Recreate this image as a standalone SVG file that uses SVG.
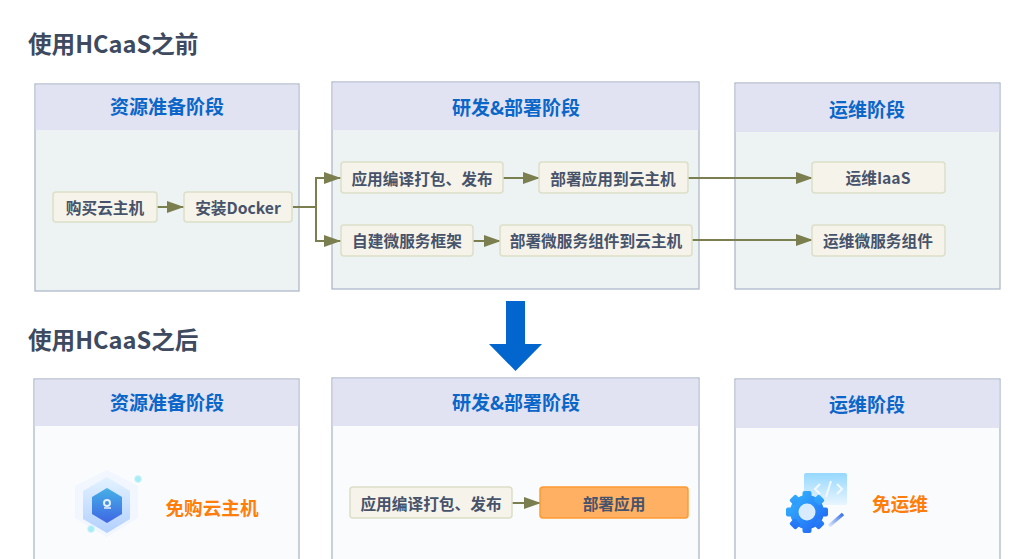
<svg xmlns="http://www.w3.org/2000/svg" width="1024" height="559" viewBox="0 0 1024 559">
<defs>
<style>
text{font-family:"Noto Sans CJK SC","Noto Sans","Liberation Sans",sans-serif;text-anchor:middle}
.panel{stroke:#aeb8c9;stroke-width:1.3}
.pa{fill:#edf3f3}.pb{fill:#fafbfd}
.hd{fill:#e1e2f2}
.ht{font-size:19px;font-weight:700;fill:#0a66c8}
.sec{font-size:23.600px;font-weight:700;fill:#3d4a5f;text-anchor:start}
.n{fill:#f6f3ea;stroke:#dcdfc8;stroke-width:1.5}
.nt{font-size:15.700px;font-weight:700;fill:#47536b}
.or{font-size:18.600px;font-weight:700;fill:#ff7d0a}
.c{fill:none;stroke:#7b7f50;stroke-width:2}
</style>
<marker id="ah" markerUnits="userSpaceOnUse" markerWidth="17" markerHeight="12" refX="17" refY="6" orient="auto"><path d="M0 0L17 6L0 12Z" fill="#7b7f50"/></marker>
<linearGradient id="hexg" x1="0" y1="0" x2="0" y2="1"><stop offset="0" stop-color="#46b0e6"/><stop offset="1" stop-color="#3f66e4"/></linearGradient>
<linearGradient id="hexo" x1="0" y1="0" x2="0" y2="1"><stop offset="0" stop-color="#dff1ff"/><stop offset="1" stop-color="#a3c6ff"/></linearGradient>
<linearGradient id="gear" gradientUnits="userSpaceOnUse" x1="788" y1="494" x2="826" y2="532"><stop offset="0" stop-color="#35b8ff"/><stop offset="1" stop-color="#1f5ff2"/></linearGradient>
<linearGradient id="scr" x1="0" y1="0" x2="0" y2="1"><stop offset="0" stop-color="#96d8ff"/><stop offset="1" stop-color="#e9f5ff"/></linearGradient>
<linearGradient id="pen" gradientUnits="userSpaceOnUse" x1="829" y1="526" x2="843" y2="513"><stop offset="0" stop-color="#dbe7ff"/><stop offset="1" stop-color="#2f6bea"/></linearGradient>
</defs>
<rect width="1024" height="559" fill="#fff"/>
<text id="title-before" class="sec" x="28" y="52.500">使用HCaaS之前</text>
<text id="title-after" class="sec" x="28" y="348.500">使用HCaaS之后</text>

<g id="panel-before-1"><rect class="panel pa" x="35" y="84" width="264" height="207"/><rect class="hd" x="35.700" y="84.700" width="262.600" height="45.300"/><text class="ht" x="167" y="114">资源准备阶段</text></g>
<g id="panel-before-2"><rect class="panel pa" x="332" y="82" width="367" height="207"/><rect class="hd" x="332.700" y="82.700" width="365.600" height="47.300"/><text class="ht" x="516" y="115">研发&amp;部署阶段</text></g>
<g id="panel-before-3"><rect class="panel pa" x="735" y="83" width="265" height="206"/><rect class="hd" x="735.700" y="83.700" width="263.600" height="48.300"/><text class="ht" x="867" y="117">运维阶段</text></g>
<g id="panel-after-1"><rect class="panel pb" x="34" y="379" width="265" height="190"/><rect class="hd" x="34.700" y="379.700" width="263.600" height="46.300"/><text class="ht" x="167" y="410">资源准备阶段</text></g>
<g id="panel-after-2"><rect class="panel pb" x="332" y="378" width="367" height="190"/><rect class="hd" x="332.700" y="378.700" width="365.600" height="47.300"/><text class="ht" x="516" y="410">研发&amp;部署阶段</text></g>
<g id="panel-after-3"><rect class="panel pb" x="735" y="379" width="265" height="190"/><rect class="hd" x="735.700" y="379.700" width="263.600" height="48.300"/><text class="ht" x="867" y="412">运维阶段</text></g>

<g id="connectors">
<path class="c" marker-end="url(#ah)" d="M157 207H184"/>
<path class="c" marker-end="url(#ah)" d="M293 207H316V178H341"/>
<path class="c" marker-end="url(#ah)" d="M316 207V241H341"/>
<path class="c" marker-end="url(#ah)" d="M502 178H540"/>
<path class="c" marker-end="url(#ah)" d="M688 178H813"/>
<path class="c" marker-end="url(#ah)" d="M692 240H813"/>
<path class="c" marker-end="url(#ah)" d="M472 241H501"/>
<path class="c" marker-end="url(#ah)" d="M512 503H541"/>
</g>

<g id="n1"><rect class="n" x="53" y="192" width="104" height="30" rx="3"/><text class="nt" x="105" y="214">购买云主机</text></g>
<g id="n2"><rect class="n" x="184" y="192" width="108" height="30" rx="3"/><text class="nt" x="238" y="214">安装Docker</text></g>
<g id="n3"><rect class="n" x="341" y="162" width="162" height="31" rx="3"/><text class="nt" x="422" y="185">应用编译打包、发布</text></g>
<g id="n4"><rect class="n" x="539" y="162" width="149" height="31" rx="3"/><text class="nt" x="613" y="185">部署应用到云主机</text></g>
<g id="n5"><rect class="n" x="341" y="225" width="132" height="31" rx="3"/><text class="nt" x="407" y="247">自建微服务框架</text></g>
<g id="n6"><rect class="n" x="500" y="225" width="192" height="31" rx="3"/><text class="nt" x="596" y="247">部署微服务组件到云主机</text></g>
<g id="n7"><rect class="n" x="812" y="162" width="133" height="31" rx="3"/><text class="nt" x="878" y="184">运维IaaS</text></g>
<g id="n8"><rect class="n" x="812" y="225" width="133" height="31" rx="3"/><text class="nt" x="878" y="247">运维微服务组件</text></g>

<g id="down-arrow"><path d="M506 301H525V344H542L515.500 371L489 344H506Z" fill="#0366ce"/></g>

<g id="n9"><rect class="n" x="350" y="487" width="162" height="31" rx="3"/><text class="nt" x="431" y="510">应用编译打包、发布</text></g>
<g id="n10"><rect x="540" y="487" width="148" height="31" rx="3" fill="#ffb063" stroke="#ff9a33" stroke-width="1.5"/><text class="nt" x="614" y="510">部署应用</text></g>

<g id="icon-cloud">
<path d="M107 470L138 486V518L107 537L75 518V486Z" fill="#f1f6ff"/>
<path d="M107 477L130 491V519L107 533L83 519V491Z" fill="url(#hexo)" opacity=".8"/>
<path d="M107 488L122 497V514L107 523L92 514V497Z" fill="url(#hexg)"/>
<circle cx="107" cy="503" r="3" fill="none" stroke="#e4f0ff" stroke-width="2"/>
<path d="M104 508H111" stroke="#e4f0ff" stroke-width="1.500"/>
<circle cx="138" cy="479" r="3.500" fill="#a8ecf5" stroke="#d6f5fa"/>
<circle cx="91" cy="529" r="3.500" fill="#a8ecf5" stroke="#d6f5fa"/>
</g>
<text id="label-free-host" class="or" x="212" y="515">免购云主机</text>

<g id="icon-ops">
<rect x="804" y="473" width="43" height="32" rx="2" fill="url(#scr)"/>
<path d="M820 484L815 489L820 494M837 484L842 489L837 494M831 481L826 497" fill="none" stroke="#f2f9ff" stroke-width="2"/>
<circle cx="807" cy="512" r="17" fill="url(#gear)"/>
<g fill="url(#gear)"><rect x="802.500" y="491" width="9" height="8" rx="2"/><rect x="802.500" y="525" width="9" height="8" rx="2"/><rect x="786" y="507.500" width="8" height="9" rx="2"/><rect x="820" y="507.500" width="8" height="9" rx="2"/><rect x="802.500" y="491" width="9" height="8" rx="2" transform="rotate(45 807 512)"/><rect x="802.500" y="525" width="9" height="8" rx="2" transform="rotate(45 807 512)"/><rect x="786" y="507.500" width="8" height="9" rx="2" transform="rotate(45 807 512)"/><rect x="820" y="507.500" width="8" height="9" rx="2" transform="rotate(45 807 512)"/></g>
<circle cx="807" cy="512" r="8.500" fill="#d9ecff"/>
<path d="M829 526L843 514" stroke="url(#pen)" stroke-width="3.500"/>
</g>
<text id="label-free-ops" class="or" x="900" y="511">免运维</text>
</svg>
